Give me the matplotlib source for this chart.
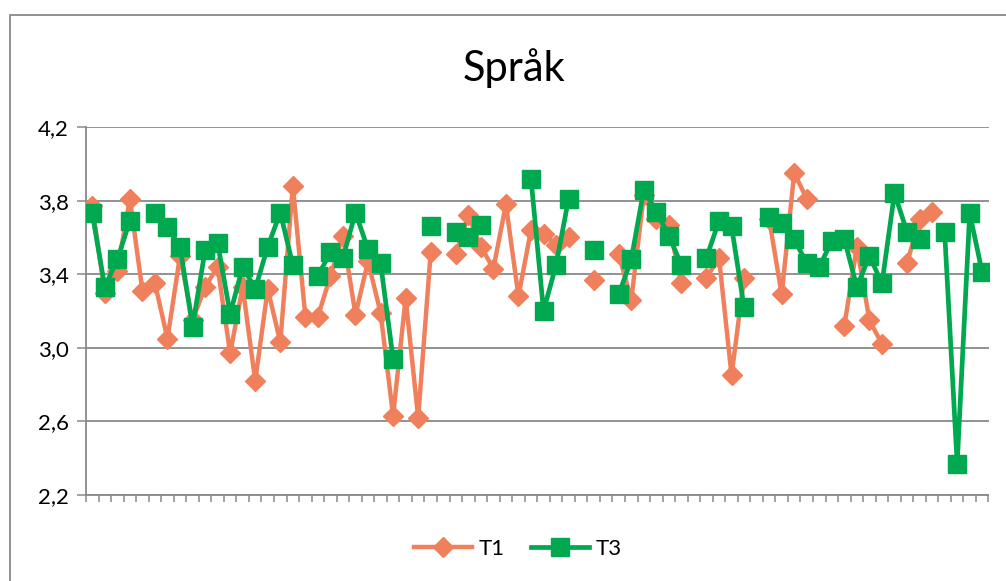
"""
Språk: T1 vs T3 per respondent (line chart with gaps for missing answers).
Writes out.png (1006x581).
"""
from __future__ import annotations

import matplotlib

matplotlib.use("Agg")
import matplotlib.pyplot as plt
import numpy as np
from matplotlib.patches import Rectangle
from matplotlib.ticker import FuncFormatter

nan = np.nan

TITLE = "Språk"
SERIES_NAMES = ["T1", "T3"]

t1 = [
    3.77, 3.30, 3.42, 3.81, 3.31, 3.35, 3.05, 3.50, 3.15, 3.33,
    3.44, 2.97, 3.33, 2.82, 3.32, 3.03, 3.88, 3.17, 3.17, 3.39,
    3.61, 3.18, 3.47, 3.19, 2.63, 3.27, 2.62, 3.52, nan, 3.51,
    3.72, 3.55, 3.43, 3.78, 3.28, 3.64, 3.62, 3.56, 3.60, nan,
    3.37, nan, 3.51, 3.26, 3.83, 3.70, 3.67, 3.35, nan, 3.38,
    3.49, 2.85, 3.38, nan, 3.70, 3.29, 3.95, 3.81, nan, nan,
    3.12, 3.55, 3.15, 3.02, nan, 3.46, 3.70, 3.74, nan, nan,
    nan, nan,
]
t3 = [
    3.73, 3.33, 3.48, 3.69, nan, 3.73, 3.655, 3.55, 3.115, 3.53,
    3.57, 3.185, 3.44, 3.32, 3.55, 3.735, 3.45, nan, 3.39, 3.52,
    3.49, 3.735, 3.535, 3.46, 2.94, nan, nan, 3.66, nan, 3.63,
    3.60, 3.67, nan, nan, nan, 3.92, 3.20, 3.45, 3.81, nan,
    3.53, nan, 3.29, 3.48, 3.86, 3.74, 3.61, 3.45, nan, 3.49,
    3.69, 3.66, 3.22, nan, 3.71, 3.68, 3.59, 3.46, 3.44, 3.58,
    3.59, 3.33, 3.50, 3.35, 3.84, 3.63, 3.59, nan, 3.63, 2.37,
    3.73, 3.41,
]
y_ticks = [2.2, 2.6, 3.0, 3.4, 3.8, 4.2]

W, H = 1006, 581
GRAY = "#898989"
ORANGE = "#F07F5C"
GREEN = "#00A84F"
FONT = ["Lato", "DejaVu Sans"]


def _comma(v, _pos):
    return f"{v:.1f}".replace(".", ",")


def main() -> int:
    plt.rcParams["font.family"] = FONT
    fig = plt.figure(figsize=(W / 100, H / 100), dpi=100)
    ax = fig.add_axes([86 / W, 1 - 495 / H, (988.5 - 86) / W, (495 - 127) / H])

    x = np.arange(len(t1))
    ax.plot(x, t1, color=ORANGE, lw=3.2, marker="D", ms=9.7, mec=ORANGE,
            mfc=ORANGE, label=SERIES_NAMES[0], zorder=3)
    ax.plot(x, t3, color=GREEN, lw=3.4, marker="s", ms=13.5, mec=GREEN,
            mfc=GREEN, label=SERIES_NAMES[1], zorder=4)

    ax.set_xlim(-0.5, len(t1) - 0.5)
    ax.set_ylim(y_ticks[0], y_ticks[-1])
    ax.set_yticks(y_ticks)
    ax.yaxis.set_major_formatter(FuncFormatter(_comma))
    ax.set_xticks(np.arange(-0.5, len(t1), 1.0))
    ax.set_xticklabels([])
    ax.grid(axis="y", color=GRAY, lw=1.3, zorder=0)
    ax.set_axisbelow(True)

    for side in ("top", "right"):
        ax.spines[side].set_visible(False)
    for side in ("left", "bottom"):
        ax.spines[side].set_color(GRAY)
        ax.spines[side].set_linewidth(1.3)
    ax.tick_params(axis="x", length=5, width=1.1, color=GRAY, direction="out")
    ax.tick_params(axis="y", length=6.5, width=1.1, color=GRAY, direction="out",
                   labelsize=16, pad=6)

    fig.text(514 / W, 1 - 68 / H, TITLE, fontsize=30, ha="center", va="center")
    fig.legend(loc="center", bbox_to_anchor=(518 / W, 1 - 549 / H), ncol=2,
               frameon=False, fontsize=16, handlelength=2.6, columnspacing=1.2,
               handletextpad=0.3)

    # outer chart frame (cut off on right and bottom in the original)
    fig.patches.append(Rectangle((10 / W, -0.1), 1.2, 1 - 15 / H + 0.1,
                                 transform=fig.transFigure, fill=False,
                                 edgecolor=GRAY, lw=1.3))

    fig.savefig("out.png", dpi=100)
    plt.close(fig)
    return 0


if __name__ == "__main__":
    raise SystemExit(main())
